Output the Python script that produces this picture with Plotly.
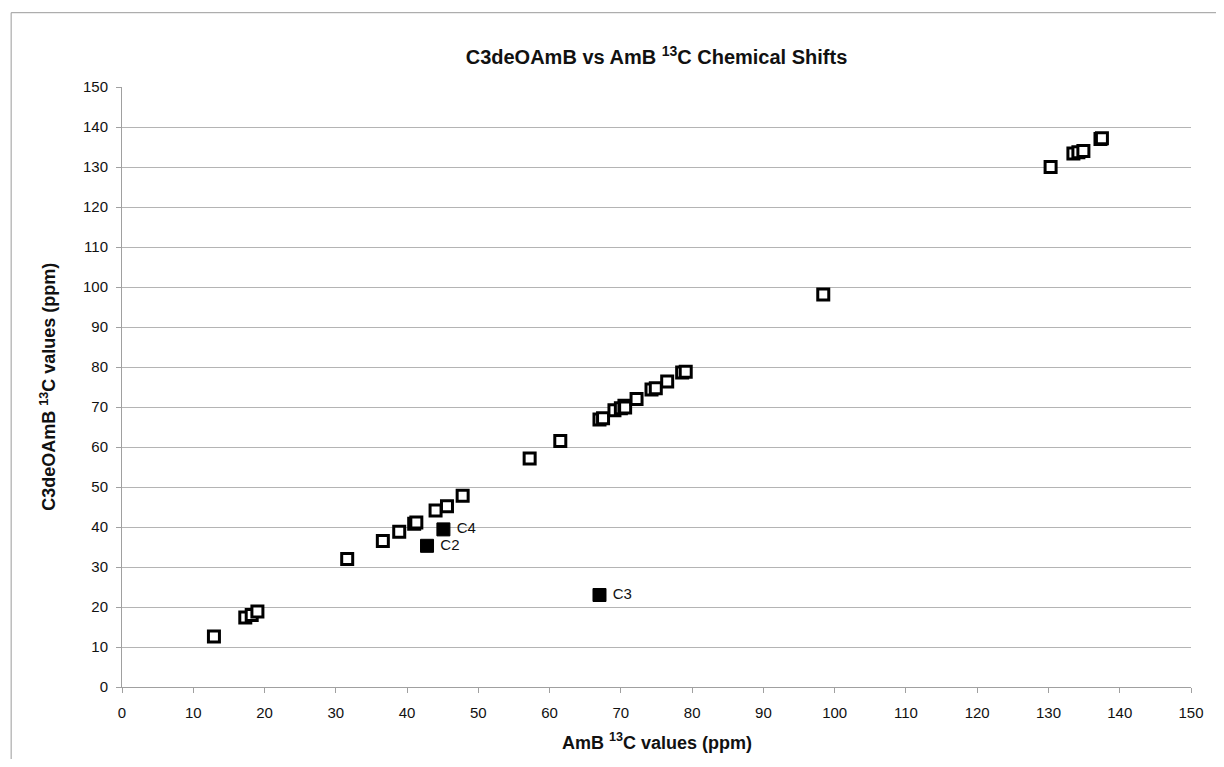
import plotly.graph_objects as go

# Open markers: AmB vs C3deOAmB chemical shifts (ppm)
amb_x = [12.9, 17.3, 18.2, 19.0, 31.6, 36.6, 38.9, 41.0, 41.3, 44.0, 45.6, 47.8,
         57.2, 61.5, 67.0, 67.5, 69.1, 70.0, 70.5, 70.6, 72.2, 74.3, 74.9, 76.5,
         78.6, 79.1, 98.4, 130.3, 133.5, 134.2, 134.9, 137.3, 137.5]
deo_y = [12.6, 17.4, 18.0, 18.9, 32.0, 36.5, 38.8, 40.8, 41.1, 44.1, 45.2, 47.8,
         57.1, 61.5, 66.9, 67.2, 69.2, 69.7, 70.3, 69.9, 72.0, 74.4, 74.7, 76.4,
         78.6, 78.8, 98.1, 130.0, 133.4, 133.7, 134.0, 137.0, 137.2]

# Highlighted carbons
hl_labels = ["C2", "C3", "C4"]
hl_x = [42.8, 67.0, 45.1]
hl_y = [35.3, 23.0, 39.4]

tick_vals = list(range(0, 151, 10))

FONT = "Liberation Sans, Arial, sans-serif"

W, H = 1208, 751
L, R, T, B = 114, 14, 79, 72
PW, PH = W - L - R, H - T - B

fig = go.Figure()
fig.add_trace(go.Scatter(
    x=amb_x, y=deo_y, mode="markers",
    marker=dict(symbol="square", size=11, color="white",
                line=dict(color="black", width=3)),
    showlegend=False, cliponaxis=False,
))
fig.add_trace(go.Scatter(
    x=hl_x, y=hl_y, mode="markers+text", text=[" " + t for t in hl_labels],
    textposition="middle right",
    textfont=dict(family=FONT, size=15, color="#111"),
    marker=dict(symbol="square", size=13, color="black",
                line=dict(color="black", width=1)),
    showlegend=False,
))

axis_common = dict(
    range=[0, 150], tickvals=tick_vals, ticks="outside", ticklen=5,
    tickcolor="#a0a0a0", showline=True, linecolor="#a0a0a0", linewidth=1,
    tickfont=dict(family=FONT, size=15, color="#111"), zeroline=False,
)

fig.update_layout(
    width=W, height=H,
    margin=dict(l=L, r=R, t=T, b=B),
    paper_bgcolor="white", plot_bgcolor="white",
    title=dict(text="<b>C3deOAmB vs AmB <sup>13</sup>C Chemical Shifts</b>",
               x=0.5, xanchor="center", y=1 - 49 / H, yanchor="middle",
               xref="paper", yref="container",
               font=dict(family=FONT, size=20, color="#111")),
    xaxis=dict(**axis_common, showgrid=False, ticklabelstandoff=7),
    yaxis=dict(**axis_common, showgrid=True, gridcolor="#b4b4b4", gridwidth=1,
               ticklabelstandoff=5),
    annotations=[
        dict(text="<b>AmB <sup>13</sup>C values (ppm)</b>", xref="paper", yref="paper",
             x=0.5, y=(T + PH - (734)) / PH, xanchor="center", yanchor="middle",
             showarrow=False, font=dict(family=FONT, size=18, color="#111")),
        dict(text="<b>C3deOAmB <sup>13</sup>C values (ppm)</b>", xref="paper", yref="paper",
             x=(39 - L) / PW, y=0.5, xanchor="center", yanchor="middle", textangle=-90,
             showarrow=False, font=dict(family=FONT, size=18, color="#111")),
    ],
    shapes=[dict(type="rect", xref="paper", yref="paper",
                 x0=(2 - L) / PW, x1=(W + 20 - L) / PW,
                 y0=(T + PH - (H + 20)) / PH, y1=(T + PH - 4.7) / PH,
                 line=dict(color="#9a9a9a", width=1), layer="below")],
)

fig.write_html("out.html")
